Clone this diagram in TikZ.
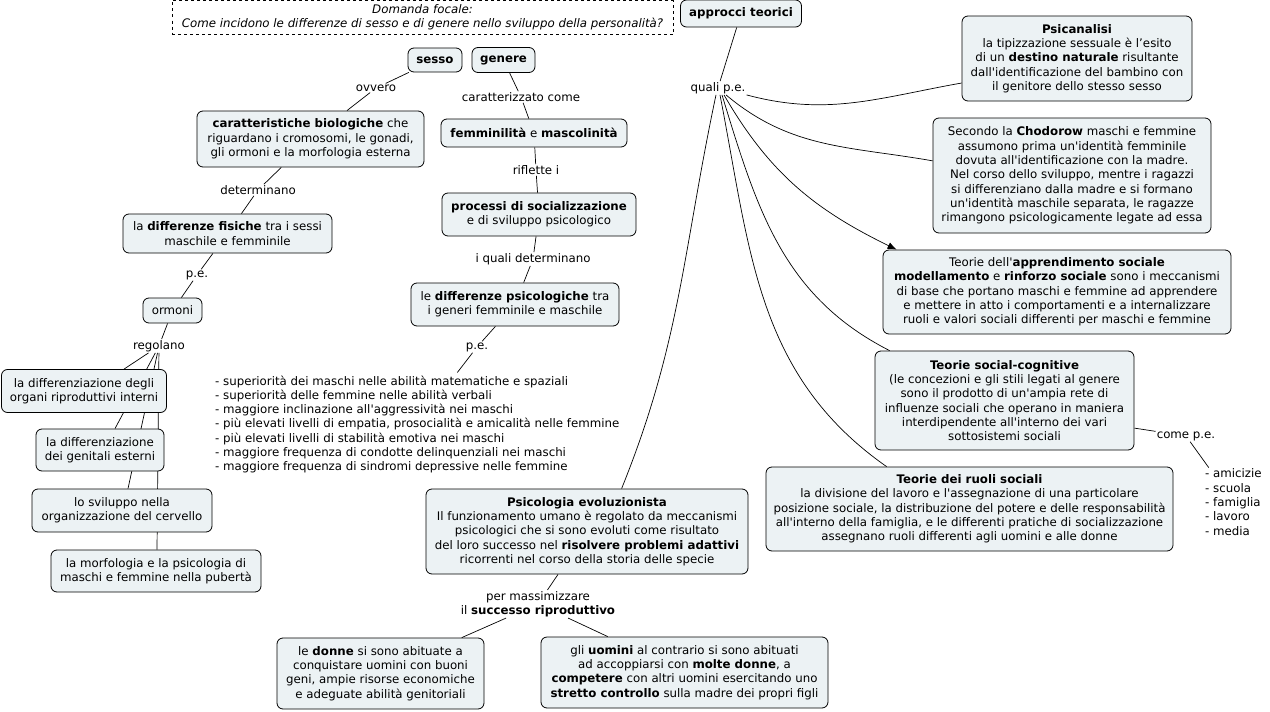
\documentclass[tikz,border=0pt]{standalone}
\usepackage{fontspec}
\setmainfont{DejaVu Sans}[Ligatures=TeXOff]
\usetikzlibrary{arrows.meta}
\definecolor{ink}{HTML}{000000}
\definecolor{boxfill}{HTML}{ECF2F4}
\pgfdeclarelayer{bg}
\pgfsetlayers{bg,main}
\newcommand{\mapfont}{\fontsize{11.8}{14.3}\selectfont}

\begin{document}
\begin{tikzpicture}[x=1pt,y=1pt,
  cpt/.style={draw=ink,line width=0.8pt,fill=boxfill,rounded corners=6pt,align=center,inner sep=2pt,font=\mapfont,text=ink},
  lnk/.style={align=center,inner sep=1pt,font=\mapfont,text=ink},
  ln/.style={line width=0.7pt,draw=ink},
  arr/.style={ln,-{Latex[length=9pt,width=7pt]}},
]
  \useasboundingbox (0,0) rectangle (1270,-712);

  % focal question and left branch
  \node[cpt,dashed,fill=none,rounded corners=0pt,minimum width=501pt,minimum height=34pt,font=\mapfont\itshape] (focal) at (422.5,-17.5)
    {Domanda focale:\\Come incidono le differenze di sesso e di genere nello sviluppo della personalità?};
  \node[cpt,minimum width=121pt,minimum height=27pt] (teor) at (741,-13.5) {\textbf{approcci teorici}};

  \node[cpt,minimum width=54pt,minimum height=24pt] (sesso) at (435,-60) {\textbf{sesso}};
  \node[cpt,minimum width=63pt,minimum height=25pt] (gen) at (503.5,-60) {\textbf{genere}};
  \node[cpt,minimum width=227pt,minimum height=56pt] (car) at (310.5,-139)
    {\textbf{caratteristiche biologiche} che\\riguardano i cromosomi, le gonadi,\\gli ormoni e la morfologia esterna};
  \node[cpt,minimum width=186pt,minimum height=28pt] (femm) at (534,-133) {\textbf{femminilità} e \textbf{mascolinità}};
  \node[cpt,minimum width=194pt,minimum height=43pt] (proc) at (539,-214.5)
    {\textbf{processi di socializzazione}\\e di sviluppo psicologico};
  \node[cpt,minimum width=208pt,minimum height=43pt] (dpsi) at (515,-304.5)
    {le \textbf{differenze psicologiche} tra\\i generi femminile e maschile};
  \node[lnk,anchor=west,align=left,inner sep=3pt] (lista) at (212,-424.5)
    {- superiorità dei maschi nelle abilità matematiche e spaziali\\
     - superiorità delle femmine nelle abilità verbali\\
     - maggiore inclinazione all'aggressività nei maschi\\
     - più elevati livelli di empatia, prosocialità e amicalità nelle femmine\\
     - più elevati livelli di stabilità emotiva nei maschi\\
     - maggiore frequenza di condotte delinquenziali nei maschi\\
     - maggiore frequenza di sindromi depressive nelle femmine};

  \node[cpt,minimum width=209pt,minimum height=39pt] (dfis) at (227.5,-233.5)
    {la \textbf{differenze fisiche} tra i sessi\\maschile e femminile};
  \node[cpt,minimum width=59pt,minimum height=25pt] (orm) at (172.5,-310.5) {ormoni};
  \node[cpt,minimum width=165pt,minimum height=43pt] (org) at (84,-391)
    {la differenziazione degli\\organi riproduttivi interni};
  \node[cpt,minimum width=128pt,minimum height=42pt] (gent) at (100,-450)
    {la differenziazione\\dei genitali esterni};
  \node[cpt,minimum width=180pt,minimum height=43pt] (cerv) at (122,-510.5)
    {lo sviluppo nella\\organizzazione del cervello};
  \node[cpt,minimum width=210pt,minimum height=42pt] (pub) at (156,-571)
    {la morfologia e la psicologia di\\maschi e femmine nella pubertà};

  \node[lnk] (ovv) at (376,-88) {ovvero};
  \node[lnk] (carc) at (521,-97) {caratterizzato come};
  \node[lnk] (rifl) at (536,-170) {riflette i};
  \node[lnk] (iqd) at (533,-259) {i quali determinano};
  \node[lnk] (pe2) at (477,-347) {p.e.};
  \node[lnk] (det) at (258,-190) {determinano};
  \node[lnk] (pe1) at (197,-275) {p.e.};
  \node[lnk] (reg) at (159,-346) {regolano};

  % right branch
  \node[lnk] (qpe) at (718,-88) {quali p.e.};
  \node[cpt,minimum width=230pt,minimum height=85pt] (psic) at (1077,-58.5)
    {\textbf{Psicanalisi}\\la tipizzazione sessuale è l’esito\\di un \textbf{destino naturale} risultante\\dall'identificazione del bambino con\\il genitore dello stesso sesso};
  \node[cpt,minimum width=278pt,minimum height=115pt] (chod) at (1072,-175.5)
    {Secondo la \textbf{Chodorow} maschi e femmine\\assumono prima un'identità femminile\\dovuta all'identificazione con la madre.\\Nel corso dello sviluppo, mentre i ragazzi\\si differenziano dalla madre e si formano\\un'identità maschile separata, le ragazze\\rimangono psicologicamente legate ad essa};
  \node[cpt,minimum width=348pt,minimum height=84pt] (apsoc) at (1057,-292)
    {Teorie dell'\textbf{apprendimento sociale}\\\textbf{modellamento} e \textbf{rinforzo sociale} sono i meccanismi\\di base che portano maschi e femmine ad apprendere\\e mettere in atto i comportamenti e a internalizzare\\ruoli e valori sociali differenti per maschi e femmine};
  \node[cpt,minimum width=259pt,minimum height=99pt] (soccog) at (1004.5,-400.5)
    {\textbf{Teorie social-cognitive}\\(le concezioni e gli stili legati al genere\\sono il prodotto di un'ampia rete di\\influenze sociali che operano in maniera\\interdipendente all'interno dei vari\\sottosistemi sociali};
  \node[lnk] (cpe) at (1186,-436) {come p.e.};
  \node[lnk,anchor=west,align=left] (list2) at (1204,-502)
    {- amicizie\\- scuola\\- famiglia\\- lavoro\\- media};
  \node[cpt,minimum width=407pt,minimum height=84pt] (ruoli) at (969.5,-509)
    {\textbf{Teorie dei ruoli sociali}\\la divisione del lavoro e l'assegnazione di una particolare\\posizione sociale, la distribuzione del potere e delle responsabilità\\all'interno della famiglia, e le differenti pratiche di socializzazione\\assegnano ruoli differenti agli uomini e alle donne};
  \node[cpt,minimum width=322pt,minimum height=85pt] (psicev) at (587,-531.5)
    {\textbf{Psicologia evoluzionista}\\Il funzionamento umano è regolato da meccanismi\\psicologici che si sono evoluti come risultato\\del loro successo nel \textbf{risolvere problemi adattivi}\\ricorrenti nel corso della storia delle specie};
  \node[lnk] (pmax) at (538,-604) {per massimizzare\\il \textbf{successo riproduttivo}};
  \node[cpt,minimum width=207pt,minimum height=71pt] (donne) at (380.5,-673.5)
    {le \textbf{donne} si sono abituate a\\conquistare uomini con buoni\\geni, ampie risorse economiche\\e adeguate abilità genitoriali};
  \node[cpt,minimum width=287pt,minimum height=71pt] (uomini) at (684.5,-672.5)
    {gli \textbf{uomini} al contrario si sono abituati\\ad accoppiarsi con \textbf{molte donne}, a\\\textbf{competere} con altri uomini esercitando uno\\\textbf{stretto controllo} sulla madre dei propri figli};

  % connectors
  \begin{pgfonlayer}{bg}
    \draw[ln] (sesso) -- (ovv);
    \draw[ln] (ovv) -- (car);
    \draw[ln] (gen) -- (carc);
    \draw[ln] (carc) -- (femm);
    \draw[ln] (femm) -- (rifl);
    \draw[ln] (rifl) -- (proc);
    \draw[ln] (proc) -- (iqd);
    \draw[ln] (iqd) -- (dpsi);
    \draw[ln] (dpsi) -- (pe2);
    \draw[ln] (pe2) -- (lista);
    \draw[ln] (car) -- (det);
    \draw[ln] (det) -- (dfis);
    \draw[ln] (dfis) -- (pe1);
    \draw[ln] (pe1) -- (orm);
    \draw[ln] (orm) -- (reg);
    \draw[ln] (reg) -- ([xshift=40pt]org.north);
    \draw[ln] (reg) -- ([xshift=15pt]gent.north);
    \draw[ln] (reg) -- ([xshift=6pt]cerv.north);
    \draw[ln] (reg) -- ([xshift=1pt]pub.north);

    \draw[ln] (teor) -- (qpe);
    \draw[ln] (qpe.south east) to[out=-15,in=190] (psic.192);
    \draw[ln] ([xshift=8pt]qpe.south) to[out=-40,in=170] (chod.174);
    \draw[arr] ([xshift=6pt]qpe.south) to[out=-60,in=154] ([xshift=14pt]apsoc.north west);
    \draw[ln] ([xshift=4pt]qpe.south) to[out=-73,in=153] ([xshift=15pt]soccog.north west);
    \draw[ln] ([xshift=2pt]qpe.south) to[out=-79,in=145] ([xshift=121pt]ruoli.north west);
    \draw[ln] ([xshift=-2pt]qpe.south) to[out=-102,in=68] ([xshift=196pt]psicev.north west);
    \draw[ln] (soccog.-12) -- (cpe);
    \draw[ln] (cpe) -- (list2);

    \draw[ln] (psicev) -- (pmax);
    \draw[ln] (pmax) -- (donne);
    \draw[ln] (pmax) -- (uomini);
  \end{pgfonlayer}
\end{tikzpicture}
\end{document}
